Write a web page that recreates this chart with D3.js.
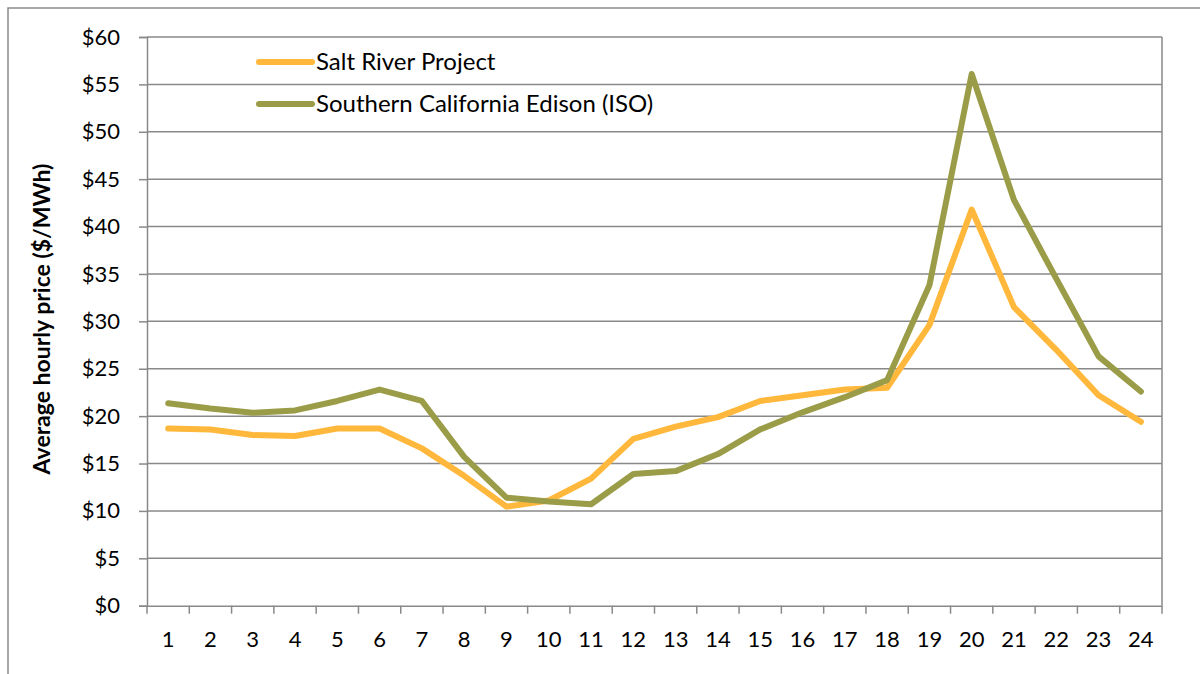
<!DOCTYPE html>
<html><head><meta charset="utf-8">
<script src="https://cdn.jsdelivr.net/npm/d3@7"></script>
<style>body{margin:0;background:#fff}svg{display:block}</style>
</head><body>
<svg id="c" width="1200" height="674"></svg>
<script>
const hours = d3.range(1, 25).map(String);
const saltRiver = [18.7,18.6,18.0,17.9,18.7,18.7,16.6,13.7,10.45,11.1,13.4,17.6,18.9,19.9,21.6,22.2,22.8,23.0,29.6,41.8,31.5,27.0,22.2,19.4];
const sce = [21.35,20.8,20.35,20.6,21.6,22.8,21.6,15.7,11.4,11.0,10.7,13.9,14.2,16.0,18.6,20.4,22.0,23.8,33.8,56.1,42.8,34.5,26.3,22.6];
const yTicks = [0,5,10,15,20,25,30,35,40,45,50,55,60];
const seriesNames = ["Salt River Project","Southern California Edison (ISO)"];
const colors = ["#FFB83B","#9B9C48"];

const font = "Lato, 'Open Sans', sans-serif";
const svg = d3.select("#c");
const L = 147, R = 1162, T = 37, B = 605.7;
const x = d3.scaleBand().domain(hours).range([L, R]);
const y = d3.scaleLinear().domain([0, 60]).range([B, T]);
const grid = "#898989";

// outer frame
svg.append("path").attr("d","M8,674V8H1200").attr("fill","none").attr("stroke","#8a8a8a").attr("stroke-width",1.5);

// gridlines
svg.append("g").selectAll("line").data(yTicks.filter(d=>d>0)).join("line")
  .attr("x1",L).attr("x2",R).attr("y1",d=>y(d)).attr("y2",d=>y(d))
  .attr("stroke",grid).attr("stroke-width",1.5);
// right border
svg.append("line").attr("x1",R).attr("x2",R).attr("y1",T).attr("y2",B).attr("stroke",grid).attr("stroke-width",1.5);

// y axis
const ya = svg.append("g").attr("transform",`translate(${L},0)`)
  .call(d3.axisLeft(y).tickValues(yTicks).tickFormat(d=>"$"+d).tickSize(8).tickPadding(19));
ya.select(".domain").attr("stroke",grid).attr("stroke-width",1.5);
ya.selectAll(".tick line").attr("stroke",grid).attr("stroke-width",1.5);
ya.selectAll("text").attr("font-family",font).attr("font-size",22).attr("fill","#000");

// x axis
const xa = svg.append("g").attr("transform",`translate(0,${B})`)
  .call(d3.axisBottom(x).tickSize(0).tickPadding(26));
xa.select(".domain").attr("stroke",grid).attr("stroke-width",1.5);
xa.selectAll("text").attr("font-family",font).attr("font-size",22).attr("fill","#000");
svg.append("g").selectAll("line").data(hours.concat(["end"])).join("line")
  .attr("x1",(d,i)=>i<24?x(d):R).attr("x2",(d,i)=>i<24?x(d):R)
  .attr("y1",B).attr("y2",B+8).attr("stroke",grid).attr("stroke-width",1.5);

// y title
svg.append("text").attr("transform","translate(50,319) rotate(-90)")
  .attr("text-anchor","middle").attr("font-family",font).attr("font-weight","bold")
  .attr("font-size",23).text("Average hourly price ($/MWh)");

// lines
const line = d3.line().x((d,i)=>x(hours[i])+x.bandwidth()/2).y(d=>y(d));
[saltRiver, sce].forEach((s,k)=>{
  svg.append("path").datum(s).attr("d",line).attr("fill","none")
    .attr("stroke",colors[k]).attr("stroke-width",6)
    .attr("stroke-linejoin","round").attr("stroke-linecap","round");
});

// legend
const legY = [62,104];
seriesNames.forEach((n,k)=>{
  svg.append("line").attr("x1",259).attr("x2",312).attr("y1",legY[k]).attr("y2",legY[k])
    .attr("stroke",colors[k]).attr("stroke-width",6).attr("stroke-linecap","round");
  svg.append("text").attr("x",316).attr("y",legY[k]+8).attr("font-family",font)
    .attr("font-size",24).text(n);
});
</script>
</body></html>
